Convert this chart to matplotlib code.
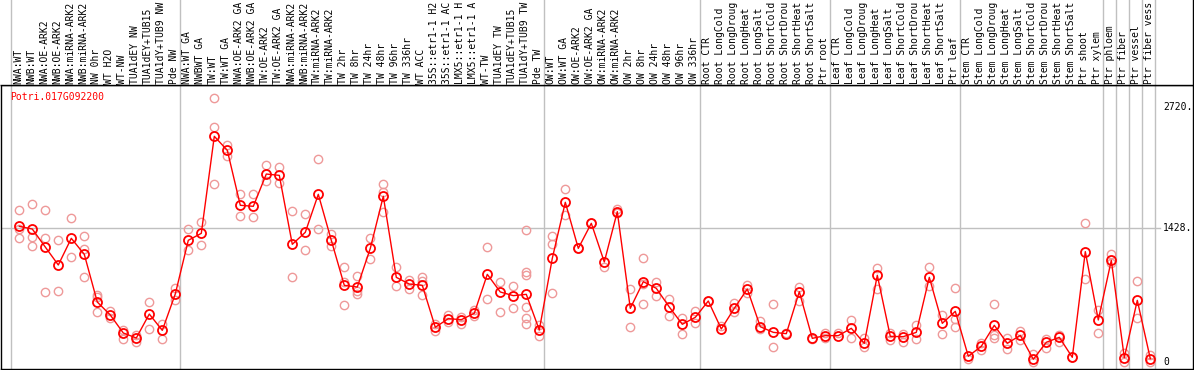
import matplotlib
matplotlib.use("Agg")
import matplotlib.pyplot as plt
import matplotlib.transforms as mtransforms

# Sample labels (one per column); the chart shows at most 14 characters
labels = [
    "NWA:WT", "NWB:WT", "NWA:OE-ARK2", "NWB:OE-ARK2", "NWA:miRNA-ARK2",
    "NWB:miRNA-ARK2", "NW 0hr", "WT H2O", "WT-NW", "TUA1dEY NW",
    "TUA1dEY+TUB15", "TUA1dY+TUB9 NW", "Pde NW",
    "NWA:WT GA", "NWBWT GA", "TW:WT", "TW:WT GA", "NWA:OE-ARK2 GA",
    "NWB:OE-ARK2 GA", "TW:OE-ARK2", "TW:OE-ARK2 GA", "NWA:miRNA-ARK2",
    "NWB:miRNA-ARK2", "TW:miRNA-ARK2", "TW:miRNA-ARK2", "TW 2hr",
    "TW 8hr", "TW 24hr", "TW 48hr", "TW 96hr", "TW 336hr", "WT ACC",
    "35S::etr1-1 H2", "35S::etr1-1 AC", "LMX5::etr1-1 H",
    "LMX5::etr1-1 A", "WT-TW", "TUA1dEY TW", "TUA1dEY+TUB15",
    "TUA1dY+TUB9 TW", "Pde TW",
    "OW:WT", "OW:WT GA", "OW:OE-ARK2", "OW:OE-ARK2 GA", "OW:miRNA-ARK2",
    "OW:miRNA-ARK2", "OW 2hr", "OW 8hr", "OW 24hr", "OW 48hr", "OW 96hr",
    "OW 336hr",
    "Root CTR", "Root LongCold", "Root LongDroug", "Root LongHeat",
    "Root LongSalt", "Root ShortCold", "Root ShortDrou", "Root ShortHeat",
    "Root ShortSalt", "Ptr root",
    "Leaf CTR", "Leaf LongCold", "Leaf LongDroug", "Leaf LongHeat",
    "Leaf LongSalt", "Leaf ShortCold", "Leaf ShortDrou", "Leaf ShortHeat",
    "Leaf ShortSalt", "Ptr leaf",
    "Stem CTR", "Stem LongCold", "Stem LongDroug", "Stem LongHeat",
    "Stem LongSalt", "Stem ShortCold", "Stem ShortDrou", "Stem ShortHeat",
    "Stem ShortSalt", "Ptr shoot", "Ptr xylem",
    "Ptr phloem", "Ptr fiber", "Ptr vessel", "Ptr fiber vess",
]

# Mean expression per sample
means = [
    1446, 1417, 1225, 1034, 1318, 1147, 639, 501, 309, 256, 511, 337, 725,
    1297, 1371, 2405, 2256, 1670, 1659, 2003, 1989, 1254, 1382, 1787, 1297,
    817, 799, 1211, 1766, 902, 831, 817, 370, 462, 451, 519, 934, 746, 707,
    721, 341,
    1105, 1702, 1211, 1478, 1066, 1602, 572, 856, 785, 586, 402, 476,
    650, 352, 572, 778, 376, 316, 302, 749, 252, 281,
    281, 359, 199, 924, 273, 270, 316, 902, 412, 540,
    61, 167, 391, 199, 284, 29, 210, 263, 50, 1176, 448,
    1083, 46, 657, 36,
]

# Replicate values per sample
reps = [
    [1617, 1414, 1318], [1684, 1332, 1233], [1617, 1318, 746], [1297, 757],
    [1531, 1119], [1339, 1208, 902], [717, 689, 533], [547, 469], [341, 242],
    [288, 216], [636, 348], [408, 242], [792, 661],
    [1414, 1190], [1492, 1243], [2813, 2501, 1894], [2312, 2192], [1790, 1553],
    [1787, 1545], [2099, 1926], [2078, 1904], [1609, 902], [1574, 1190],
    [2159, 1414], [1361, 1240], [1012, 856, 604], [916, 757, 721], [1321, 1098],
    [1894, 1808, 1595], [1012, 807], [874, 778], [909, 860, 711], [402, 334],
    [501, 423], [476, 402], [554, 490], [1222, 668], [849, 533], [810, 572],
    [1403, 962, 924, 583, 466, 402], [394, 281],
    [1339, 1254, 735], [1844, 1570], [1211], [1478], [1016], [1627, 1585],
    [775, 370], [1108, 828, 618], [849, 703], [668, 487], [472, 295], [543, 412],
    [650], [384], [632, 536], [817, 732], [440, 352], [618, 163], [309],
    [803, 650], [242], [306, 259],
    [306], [448, 252], [252, 160], [1005, 778], [312, 234], [298, 216],
    [394, 242], [1009, 810], [501, 298], [785, 462, 370],
    [29], [206, 131], [615, 284, 256], [252, 139], [327, 234], [85, 0],
    [242, 152], [284, 213], [50], [1478, 881], [550, 306],
    [1147, 1058], [93, 0], [860, 466], [75, 0],
]

# Group boundaries (after these sample indices)
group_ends = [-1, 12, 40, 52, 62, 72, 83, 84, 85, 86, 87]
ytick_vals = [2720, 1428, 0]
ytick_text = ["2720.", "1428.", "0"]
gene = "Potri.017G092200"

W, H = 1194, 370
fig = plt.figure(figsize=(W / 100, H / 100), dpi=100)

# pixel -> sample index
step, x_first = 13.0, 19.3
def px2i(p):
    return (p - x_first) / step

x_lo, x_hi = px2i(1), px2i(1193)
ax = fig.add_axes([1 / W, 1 / H, 1192 / W, 284 / H])
axh = fig.add_axes([1 / W, 285 / H, 1192 / W, 85 / H], sharex=ax)

yscale = 134 / 1428
ax.set_xlim(x_lo, x_hi)
ax.set_ylim(-7 / yscale, (362 - 85) / yscale)
for a in (ax, axh):
    a.set_xticks([])
    a.set_yticks([])
    for s in a.spines.values():
        s.set_color("black")
        s.set_linewidth(1)
axh.spines["left"].set_visible(False)
axh.spines["top"].set_visible(False)
axh.set_ylim(0, 1)

mono = "DejaVu Sans Mono"
fs = 7

for k in group_ends:
    ax.axvline(k + 0.36, color="#c0c0c0", lw=1, zorder=1)
    axh.axvline(k + 0.36, color="#c0c0c0", lw=1, zorder=1)

ax.plot([x_lo, px2i(1160)], [1428, 1428], color="#c0c0c0", lw=1, zorder=1)

xs = list(range(len(means)))
for i, r in enumerate(reps):
    ax.plot([i] * len(r), r, "o", ms=6, mfc="none", mec="#ee9999", mew=1,
            zorder=2, clip_on=False)
ax.plot(xs, means, "-", color="red", lw=1, zorder=3)
ax.plot(xs, means, "o", ms=6.5, mfc="none", mec="red", mew=1.3, zorder=4)

ax.text(px2i(10), (362 - 97) / yscale, gene, color="red", fontsize=fs,
        family=mono, va="center", ha="left")

for v, t in zip(ytick_vals, ytick_text):
    ax.text(px2i(1163), v, t, fontsize=fs, family=mono, va="center",
            ha="left", color="black")

trans = mtransforms.blended_transform_factory(axh.transData, axh.transAxes)
for i, lab in enumerate(labels):
    axh.text(i - 0.1, 1.5 / 85, lab, rotation=90, fontsize=fs, family=mono,
             ha="center", va="bottom", transform=trans, clip_on=False)

fig.savefig("out.png", dpi=100)
